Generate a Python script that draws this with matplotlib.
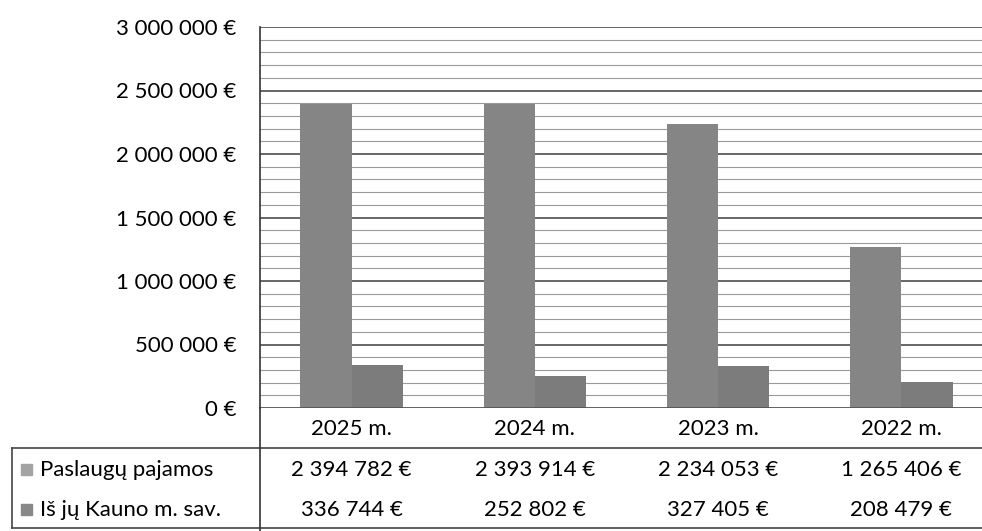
import matplotlib.pyplot as plt
import numpy as np
from matplotlib.lines import Line2D
from matplotlib.patches import Rectangle

# data
years = ["2025 m.", "2024 m.", "2023 m.", "2022 m."]
paslaugu_pajamos = [2394782, 2393914, 2234053, 1265406]
kauno_sav = [336744, 252802, 327405, 208479]
series_names = ["Paslaugų pajamos", "Iš jų Kauno m. sav."]
y_ticks = [0, 500000, 1000000, 1500000, 2000000, 2500000, 3000000]


def eur(v):
    # 2 394 782 €
    return f"{v:,}".replace(",", " ") + " €"


plt.rcParams['font.family'] = ['Lato', 'DejaVu Sans']
FS = 16

W, H = 982, 531
fig = plt.figure(figsize=(W / 100, H / 100), dpi=100)

# plot area in pixels: left 260, right ~993 (runs past the edge), top 27, bottom 408
left, right, top, bottom = 260, 993, 27, 408
ax = fig.add_axes([left / W, 1 - bottom / H, (right - left) / W, (bottom - top) / H])

x = np.arange(len(years))
bw = 0.28
ax.bar(x - bw / 2, paslaugu_pajamos, bw, color="#858585", zorder=3)
ax.bar(x + bw / 2, kauno_sav, bw, color="#7c7c7c", zorder=3)

ax.set_xlim(-0.5, len(years) - 0.5)
ax.set_ylim(0, 3000000)

# minor grid every 100k, major every 500k
for v in np.arange(100000, 3000000, 100000):
    major = v % 500000 == 0
    ax.axhline(v, color="#5a5a5a" if major else "#9a9a9a",
               lw=1.3 if major else 0.8, zorder=1)
ax.axhline(3000000, color="#555555", lw=1.3, zorder=1)

ax.set_yticks(y_ticks)
ax.set_yticklabels([eur(v) for v in y_ticks], fontsize=FS)
ax.tick_params(axis="y", length=0, pad=17)
ax.set_xticks([])
for s in ["top", "right", "bottom"]:
    ax.spines[s].set_visible(False)
ax.spines["left"].set_color("#333333")
ax.spines["left"].set_linewidth(1.2)

# axis bottom line
ax.axhline(0, color="#555555", lw=1.3, zorder=4)


def fx(px):
    return px / W


def fy(py):
    return 1 - py / H


# data table under the chart
cat_w = (right - left) / len(years)
centers = [left + cat_w * (i + 0.5) for i in range(len(years))]
for cx, lab in zip(centers, years):
    fig.text(fx(cx), fy(429), lab, ha="center", va="center", fontsize=FS)

row_y = [470, 510]
rows = [paslaugu_pajamos, kauno_sav]
for ry, vals in zip(row_y, rows):
    for cx, v in zip(centers, vals):
        fig.text(fx(cx), fy(ry), eur(v), ha="center", va="center", fontsize=FS)

swatch = ["#a3a3a3", "#888888"]
for ry, name, col in zip(row_y, series_names, swatch):
    fig.patches.append(Rectangle((fx(21), fy(ry + 5)), fx(11), 11 / H,
                                 transform=fig.transFigure, color=col))
    fig.text(fx(40), fy(ry), name, ha="left", va="center", fontsize=FS)

lc = "#444444"
fig.lines.append(Line2D([fx(12), 1], [fy(448), fy(448)], transform=fig.transFigure, color=lc, lw=1.2))
fig.lines.append(Line2D([fx(12), 1], [fy(528), fy(528)], transform=fig.transFigure, color=lc, lw=1.2))
fig.lines.append(Line2D([fx(12), fx(12)], [fy(448), fy(528)], transform=fig.transFigure, color=lc, lw=1.2))
fig.lines.append(Line2D([fx(left), fx(left)], [fy(bottom), 0], transform=fig.transFigure, color="#333333", lw=1.2))

fig.savefig("out.png", dpi=100)
